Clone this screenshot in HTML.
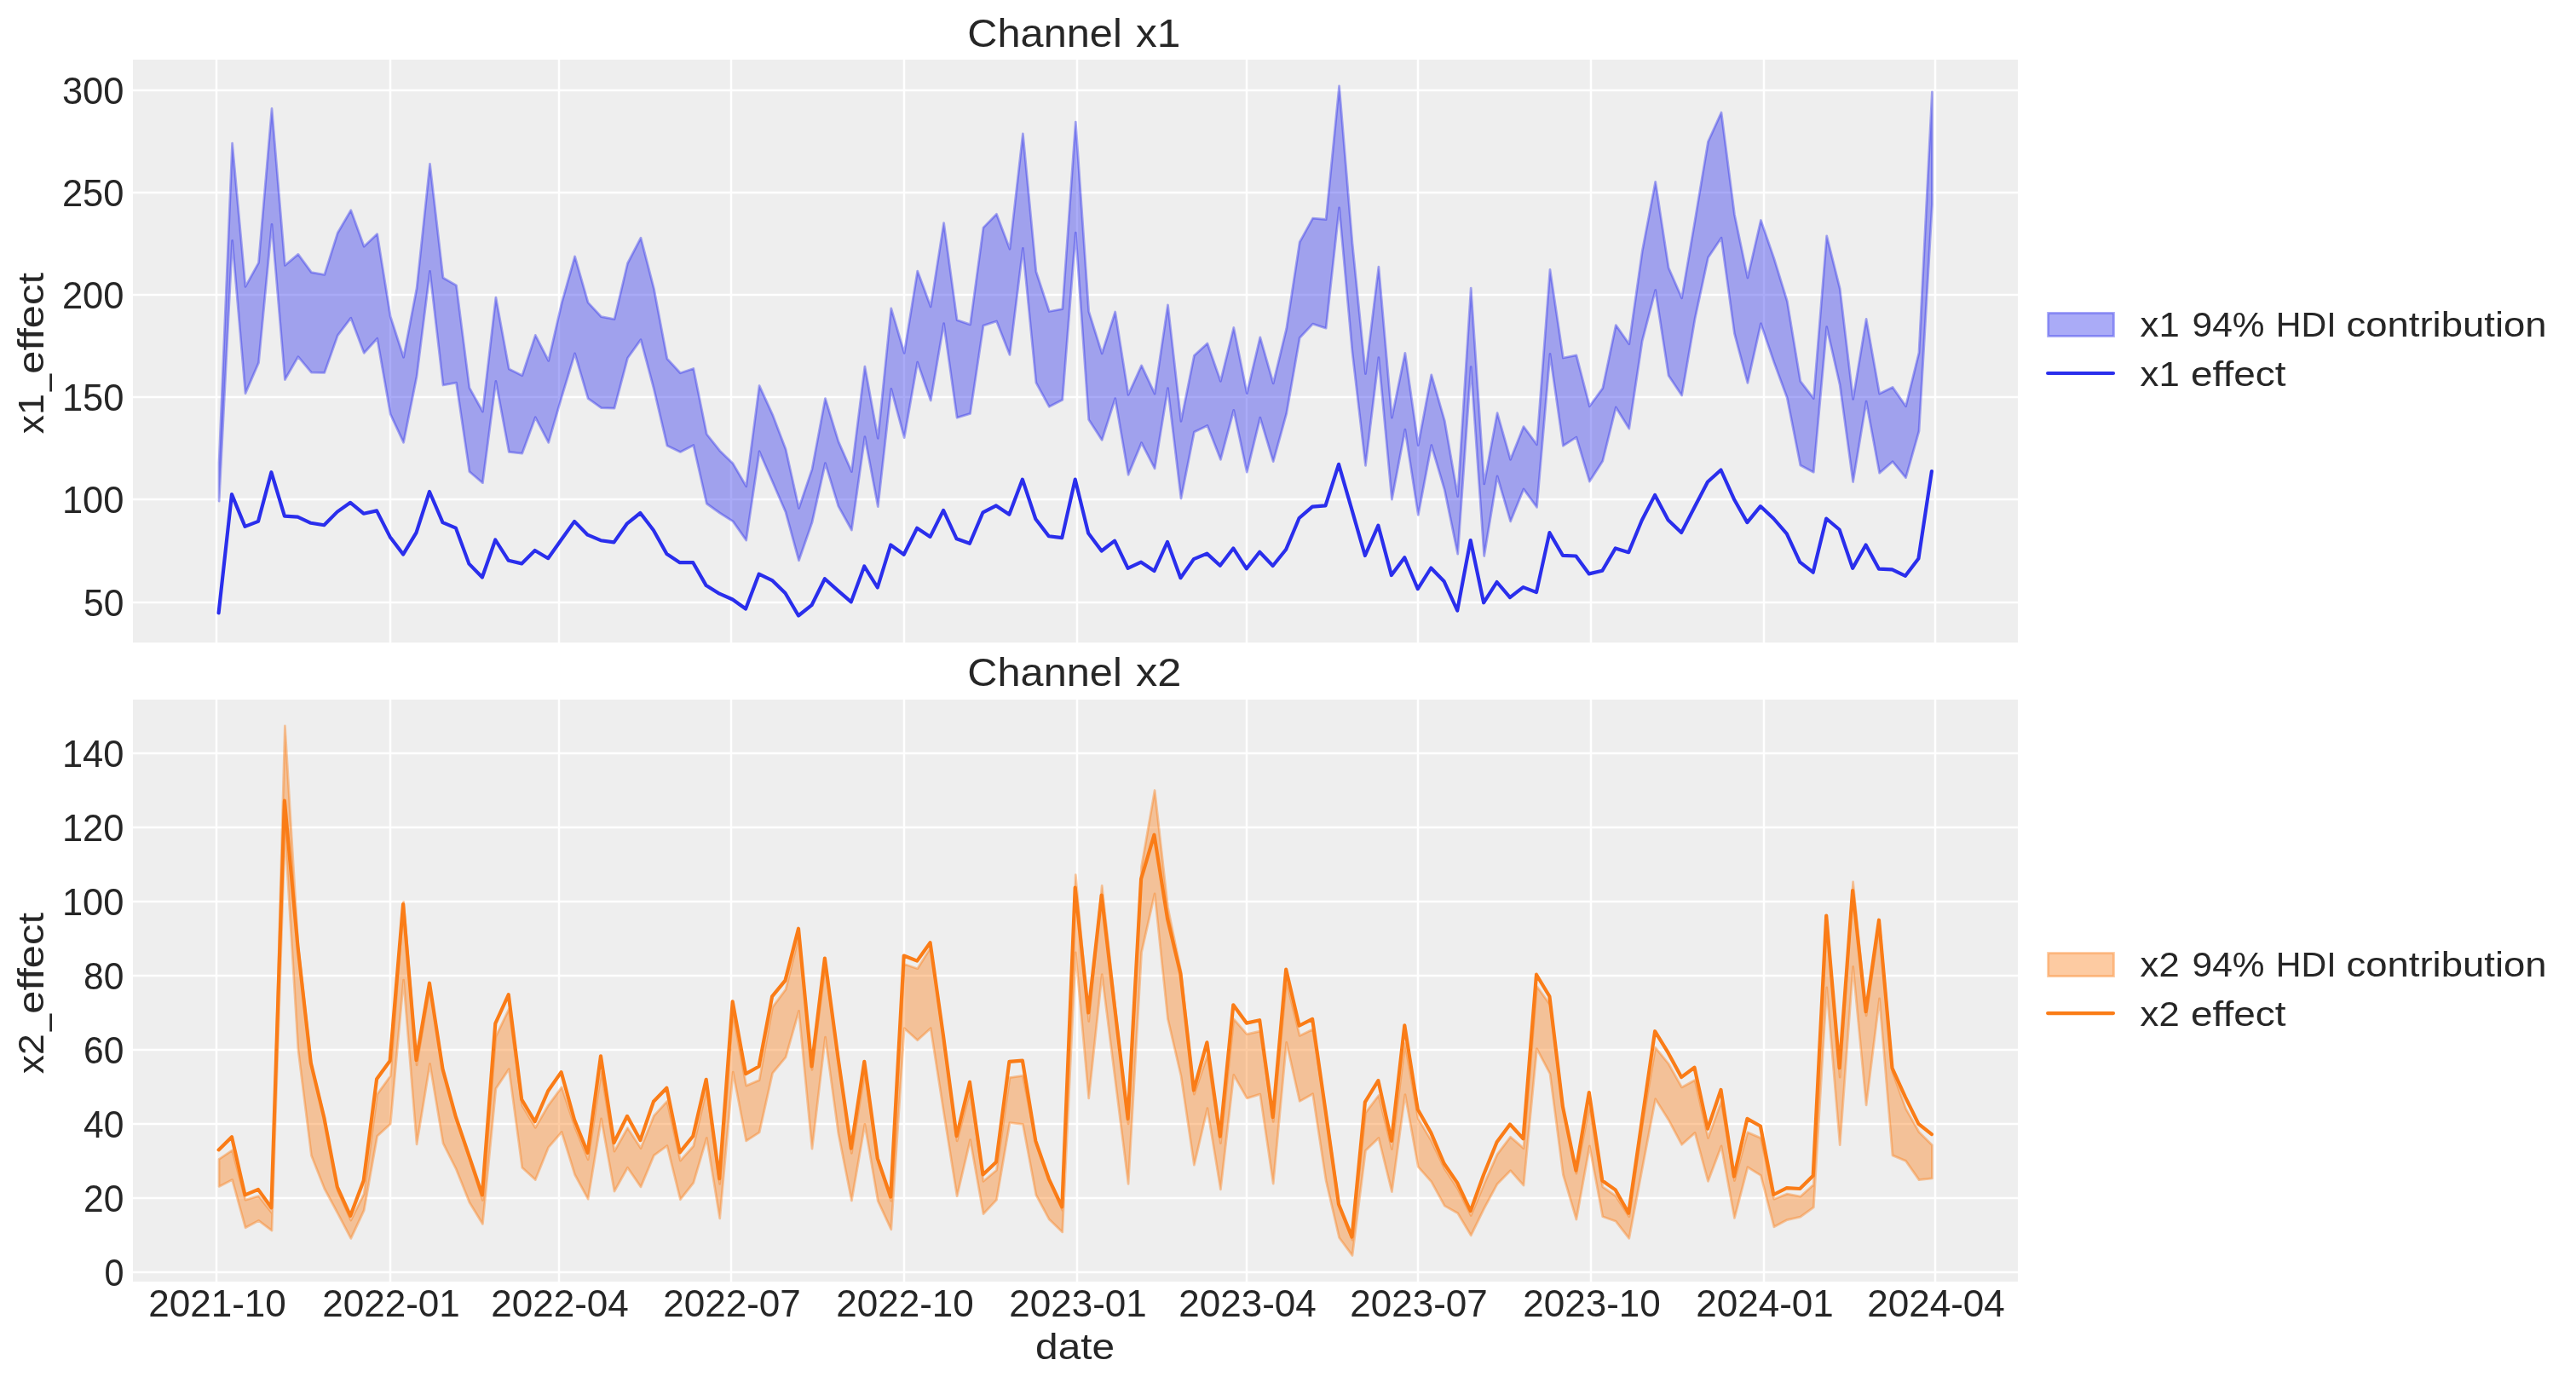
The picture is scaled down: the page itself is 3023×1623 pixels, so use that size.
<!DOCTYPE html>
<html><head><meta charset="utf-8"><title>Channel contributions</title>
<style>html,body{margin:0;padding:0;background:#fff}svg{display:block;will-change:transform}text{font-family:"Liberation Sans",sans-serif;fill:#262626}</style></head><body>
<svg width="3023" height="1623" viewBox="0 0 3023 1623">
<rect x="0" y="0" width="3023" height="1623" fill="#ffffff"/>
<defs>
<clipPath id="c1"><rect x="156.0" y="70.0" width="2212.0" height="684.0"/></clipPath>
<clipPath id="c2"><rect x="156.0" y="821.0" width="2212.0" height="683.0"/></clipPath>
</defs>
<rect x="156.0" y="70.0" width="2212.0" height="684.0" fill="#eeeeee"/>
<g stroke="#ffffff" stroke-width="2.5">
<line x1="254" y1="70.0" x2="254" y2="754.0"/>
<line x1="458" y1="70.0" x2="458" y2="754.0"/>
<line x1="656" y1="70.0" x2="656" y2="754.0"/>
<line x1="858" y1="70.0" x2="858" y2="754.0"/>
<line x1="1061" y1="70.0" x2="1061" y2="754.0"/>
<line x1="1264" y1="70.0" x2="1264" y2="754.0"/>
<line x1="1463" y1="70.0" x2="1463" y2="754.0"/>
<line x1="1664" y1="70.0" x2="1664" y2="754.0"/>
<line x1="1867" y1="70.0" x2="1867" y2="754.0"/>
<line x1="2070" y1="70.0" x2="2070" y2="754.0"/>
<line x1="2271" y1="70.0" x2="2271" y2="754.0"/>
<line x1="156.0" y1="707.00" x2="2368.0" y2="707.00"/>
<line x1="156.0" y1="586.00" x2="2368.0" y2="586.00"/>
<line x1="156.0" y1="466.00" x2="2368.0" y2="466.00"/>
<line x1="156.0" y1="346.00" x2="2368.0" y2="346.00"/>
<line x1="156.0" y1="226.00" x2="2368.0" y2="226.00"/>
<line x1="156.0" y1="106.00" x2="2368.0" y2="106.00"/>
</g>
<path d="M257.1,543.1 L272.6,168.1 L288.0,336.4 L303.5,308.3 L319.0,127.5 L334.4,311.4 L349.9,298.4 L365.4,319.6 L380.8,322.4 L396.3,273.2 L411.8,246.7 L427.2,289.3 L442.7,274.6 L458.2,371.5 L473.6,419.3 L489.1,338.1 L504.5,192.4 L520.0,326.0 L535.5,334.9 L550.9,455.1 L566.4,483.0 L581.9,349.1 L597.3,433.0 L612.8,440.7 L628.3,393.4 L643.7,423.4 L659.2,355.6 L674.6,301.0 L690.1,355.1 L705.6,371.7 L721.0,374.6 L736.5,309.0 L752.0,279.2 L767.4,338.8 L782.9,421.0 L798.4,437.8 L813.8,432.5 L829.3,509.5 L844.7,528.9 L860.2,544.1 L875.7,570.8 L891.1,452.7 L906.6,486.6 L922.1,527.3 L937.5,596.5 L953.0,550.6 L968.5,467.6 L983.9,518.1 L999.4,553.5 L1014.9,430.1 L1030.3,514.3 L1045.8,361.9 L1061.2,414.3 L1076.7,318.1 L1092.2,359.9 L1107.6,261.6 L1123.1,375.6 L1138.6,380.9 L1154.0,267.1 L1169.5,251.3 L1185.0,292.2 L1200.4,157.0 L1215.9,318.8 L1231.3,365.5 L1246.8,362.6 L1262.3,143.1 L1277.7,365.5 L1293.2,414.8 L1308.7,366.0 L1324.1,463.3 L1339.6,428.9 L1355.1,462.1 L1370.5,357.8 L1386.0,494.3 L1401.4,417.2 L1416.9,403.0 L1432.4,447.4 L1447.8,384.5 L1463.3,461.6 L1478.8,395.8 L1494.2,449.9 L1509.7,385.7 L1525.2,284.2 L1540.6,256.1 L1556.1,257.5 L1571.6,101.0 L1587.0,285.4 L1602.5,438.6 L1617.9,313.1 L1633.4,490.2 L1648.9,414.3 L1664.3,522.5 L1679.8,439.8 L1695.3,493.8 L1710.7,582.6 L1726.2,338.1 L1741.7,567.9 L1757.1,484.7 L1772.6,539.3 L1788.0,500.6 L1803.5,521.7 L1819.0,316.4 L1834.4,420.0 L1849.9,416.9 L1865.4,476.8 L1880.8,455.6 L1896.3,381.6 L1911.8,403.7 L1927.2,295.0 L1942.7,213.3 L1958.1,314.3 L1973.6,349.8 L1989.1,258.7 L2004.5,166.2 L2020.0,132.0 L2035.5,252.0 L2050.9,326.0 L2066.4,258.5 L2081.9,303.4 L2097.3,353.5 L2112.8,447.4 L2128.3,467.6 L2143.7,276.8 L2159.2,338.8 L2174.6,468.4 L2190.1,374.4 L2205.6,462.1 L2221.0,454.4 L2236.5,476.8 L2252.0,413.8 L2267.4,107.8 L2267.4,240.2 L2252.0,505.9 L2236.5,560.7 L2221.0,541.7 L2205.6,555.1 L2190.1,471.2 L2174.6,565.5 L2159.2,452.0 L2143.7,383.7 L2128.3,554.2 L2112.8,546.0 L2097.3,466.9 L2081.9,425.3 L2066.4,379.7 L2050.9,449.4 L2035.5,391.7 L2020.0,279.2 L2004.5,302.2 L1989.1,373.9 L1973.6,464.0 L1958.1,440.7 L1942.7,340.5 L1927.2,400.1 L1911.8,503.0 L1896.3,478.0 L1880.8,541.0 L1865.4,565.0 L1849.9,513.1 L1834.4,523.2 L1819.0,415.5 L1803.5,595.3 L1788.0,573.9 L1772.6,611.9 L1757.1,558.8 L1741.7,652.5 L1726.2,430.6 L1710.7,650.1 L1695.3,575.1 L1679.8,522.5 L1664.3,604.4 L1648.9,504.2 L1633.4,586.2 L1617.9,419.6 L1602.5,546.3 L1587.0,413.3 L1571.6,243.8 L1556.1,385.2 L1540.6,380.1 L1525.2,396.5 L1509.7,485.4 L1494.2,541.7 L1478.8,490.2 L1463.3,554.2 L1447.8,481.3 L1432.4,539.3 L1416.9,499.4 L1401.4,507.1 L1386.0,585.0 L1370.5,455.6 L1355.1,549.9 L1339.6,519.6 L1324.1,557.1 L1308.7,467.6 L1293.2,516.4 L1277.7,492.6 L1262.3,273.2 L1246.8,469.3 L1231.3,477.3 L1215.9,449.1 L1200.4,291.4 L1185.0,416.4 L1169.5,377.0 L1154.0,382.1 L1138.6,485.4 L1123.1,490.2 L1107.6,379.7 L1092.2,470.0 L1076.7,425.1 L1061.2,513.6 L1045.8,456.3 L1030.3,594.6 L1014.9,512.6 L999.4,622.0 L983.9,594.1 L968.5,543.6 L953.0,613.1 L937.5,657.8 L922.1,601.3 L906.6,565.5 L891.1,529.7 L875.7,634.0 L860.2,611.9 L844.7,602.0 L829.3,591.0 L813.8,522.5 L798.4,530.4 L782.9,522.9 L767.4,456.6 L752.0,398.6 L736.5,420.3 L721.0,479.2 L705.6,478.7 L690.1,467.6 L674.6,414.8 L659.2,465.7 L643.7,519.3 L628.3,489.8 L612.8,532.1 L597.3,530.4 L581.9,447.4 L566.4,566.7 L550.9,553.5 L535.5,449.1 L520.0,452.0 L504.5,318.4 L489.1,441.4 L473.6,519.3 L458.2,486.2 L442.7,397.2 L427.2,414.3 L411.8,373.2 L396.3,393.6 L380.8,437.4 L365.4,437.1 L349.9,418.6 L334.4,445.5 L319.0,263.3 L303.5,425.8 L288.0,461.6 L272.6,282.5 L257.1,588.1 Z" fill="rgba(42,46,236,0.4)" stroke="rgba(42,46,236,0.4)" stroke-width="2.78" stroke-linejoin="round" clip-path="url(#c1)"/>
<path d="M256.6,719.3 L272.0,580.1 L287.5,617.9 L303.0,611.9 L318.4,554.2 L333.9,605.6 L349.4,606.6 L364.8,613.8 L380.3,616.2 L395.8,600.6 L411.2,589.8 L426.7,602.7 L442.1,599.4 L457.6,629.9 L473.1,650.6 L488.5,625.1 L504.0,577.0 L519.5,613.1 L534.9,619.6 L550.4,661.6 L565.9,677.5 L581.3,633.5 L596.8,657.8 L612.2,661.4 L627.7,646.0 L643.2,655.2 L658.6,633.5 L674.1,611.9 L689.6,627.7 L705.0,634.2 L720.5,636.4 L736.0,614.3 L751.4,602.0 L766.9,622.2 L782.4,650.1 L797.8,660.2 L813.3,660.2 L828.7,687.1 L844.2,696.7 L859.7,703.5 L875.1,714.5 L890.6,673.7 L906.1,681.1 L921.5,696.0 L937.0,722.5 L952.5,710.2 L967.9,679.2 L983.4,693.1 L998.8,706.4 L1014.3,664.5 L1029.8,689.5 L1045.2,639.5 L1060.7,650.8 L1076.2,619.8 L1091.6,629.9 L1107.1,598.9 L1122.6,632.3 L1138.0,637.8 L1153.5,601.3 L1169.0,593.4 L1184.4,603.7 L1199.9,562.6 L1215.3,609.0 L1230.8,629.2 L1246.3,631.1 L1261.7,562.6 L1277.2,625.8 L1292.7,646.5 L1308.1,634.7 L1323.6,666.9 L1339.1,659.7 L1354.5,670.1 L1370.0,635.9 L1385.4,678.2 L1400.9,656.1 L1416.4,649.6 L1431.8,663.8 L1447.3,643.4 L1462.8,667.4 L1478.2,647.7 L1493.7,664.0 L1509.2,644.8 L1524.6,608.0 L1540.1,594.6 L1555.5,593.4 L1571.0,544.8 L1586.5,598.4 L1601.9,652.0 L1617.4,616.7 L1632.9,675.1 L1648.3,654.2 L1663.8,691.2 L1679.3,666.5 L1694.7,682.3 L1710.2,716.5 L1725.7,634.0 L1741.1,707.3 L1756.6,683.0 L1772.0,701.1 L1787.5,689.1 L1803.0,695.1 L1818.4,625.1 L1833.9,651.8 L1849.4,652.5 L1864.8,673.4 L1880.3,669.8 L1895.8,643.4 L1911.2,648.2 L1926.7,610.7 L1942.1,580.9 L1957.6,610.2 L1973.1,625.1 L1988.5,595.3 L2004.0,565.5 L2019.5,551.5 L2034.9,585.7 L2050.4,613.1 L2065.9,594.1 L2081.3,608.5 L2096.8,626.3 L2112.2,659.7 L2127.7,671.7 L2143.2,608.5 L2158.6,621.5 L2174.1,666.9 L2189.6,639.5 L2205.0,667.7 L2220.5,668.4 L2236.0,675.8 L2251.4,655.6 L2266.9,553.0" fill="none" stroke="#2a2eec" stroke-width="4.17" stroke-linejoin="round" stroke-linecap="round" clip-path="url(#c1)"/>
<rect x="156.0" y="821.0" width="2212.0" height="683.0" fill="#eeeeee"/>
<g stroke="#ffffff" stroke-width="2.5">
<line x1="254" y1="821.0" x2="254" y2="1504.0"/>
<line x1="458" y1="821.0" x2="458" y2="1504.0"/>
<line x1="656" y1="821.0" x2="656" y2="1504.0"/>
<line x1="858" y1="821.0" x2="858" y2="1504.0"/>
<line x1="1061" y1="821.0" x2="1061" y2="1504.0"/>
<line x1="1264" y1="821.0" x2="1264" y2="1504.0"/>
<line x1="1463" y1="821.0" x2="1463" y2="1504.0"/>
<line x1="1664" y1="821.0" x2="1664" y2="1504.0"/>
<line x1="1867" y1="821.0" x2="1867" y2="1504.0"/>
<line x1="2070" y1="821.0" x2="2070" y2="1504.0"/>
<line x1="2271" y1="821.0" x2="2271" y2="1504.0"/>
<line x1="156.0" y1="1493.00" x2="2368.0" y2="1493.00"/>
<line x1="156.0" y1="1406.00" x2="2368.0" y2="1406.00"/>
<line x1="156.0" y1="1319.00" x2="2368.0" y2="1319.00"/>
<line x1="156.0" y1="1232.00" x2="2368.0" y2="1232.00"/>
<line x1="156.0" y1="1145.00" x2="2368.0" y2="1145.00"/>
<line x1="156.0" y1="1058.00" x2="2368.0" y2="1058.00"/>
<line x1="156.0" y1="971.00" x2="2368.0" y2="971.00"/>
<line x1="156.0" y1="884.00" x2="2368.0" y2="884.00"/>
</g>
<path d="M257.1,1360.3 L272.6,1349.8 L288.0,1408.1 L303.5,1403.7 L319.0,1423.3 L334.4,851.9 L349.9,1110.2 L365.4,1249.4 L380.8,1312.4 L396.3,1397.2 L411.8,1432.0 L427.2,1401.1 L442.7,1284.1 L458.2,1262.8 L473.6,1058.4 L489.1,1249.8 L504.5,1158.0 L520.0,1255.9 L535.5,1314.2 L550.9,1359.0 L566.4,1408.5 L581.9,1216.3 L597.3,1184.1 L612.8,1297.2 L628.3,1323.3 L643.7,1296.8 L659.2,1275.9 L674.6,1322.4 L690.1,1360.7 L705.6,1258.1 L721.0,1351.1 L736.5,1323.7 L752.0,1347.6 L767.4,1309.4 L782.9,1292.4 L798.4,1362.0 L813.8,1345.0 L829.3,1277.6 L844.7,1389.4 L860.2,1188.9 L875.7,1274.1 L891.1,1267.6 L906.6,1181.9 L922.1,1161.1 L937.5,1098.4 L953.0,1255.4 L968.5,1133.7 L983.9,1242.8 L999.4,1353.3 L1014.9,1258.1 L1030.3,1362.9 L1045.8,1409.4 L1061.2,1131.5 L1076.7,1136.7 L1092.2,1111.9 L1107.6,1221.1 L1123.1,1338.9 L1138.6,1279.4 L1154.0,1386.3 L1169.5,1373.3 L1185.0,1264.6 L1200.4,1262.4 L1215.9,1341.6 L1231.3,1385.5 L1246.8,1420.3 L1262.3,1026.7 L1277.7,1198.5 L1293.2,1039.3 L1308.7,1181.9 L1324.1,1318.9 L1339.6,1017.1 L1355.1,927.5 L1370.5,1065.0 L1386.0,1140.6 L1401.4,1284.1 L1416.9,1238.5 L1432.4,1341.6 L1447.8,1195.9 L1463.3,1213.7 L1478.8,1210.2 L1494.2,1316.3 L1509.7,1151.5 L1525.2,1215.4 L1540.6,1208.0 L1556.1,1305.9 L1571.6,1414.2 L1587.0,1455.1 L1602.5,1305.9 L1617.9,1285.5 L1633.4,1348.5 L1648.9,1224.6 L1664.3,1312.9 L1679.8,1338.9 L1695.3,1371.6 L1710.7,1395.0 L1726.2,1426.4 L1741.7,1389.4 L1757.1,1354.6 L1772.6,1334.2 L1788.0,1347.6 L1803.5,1157.6 L1819.0,1178.9 L1834.4,1300.7 L1849.9,1377.2 L1865.4,1297.2 L1880.8,1392.9 L1896.3,1403.7 L1911.8,1427.7 L1927.2,1321.1 L1942.7,1229.4 L1958.1,1248.5 L1973.6,1275.9 L1989.1,1267.6 L2004.5,1335.5 L2020.0,1292.8 L2035.5,1385.5 L2050.9,1328.9 L2066.4,1335.5 L2081.9,1407.2 L2097.3,1401.1 L2112.8,1404.2 L2128.3,1390.3 L2143.7,1079.7 L2159.2,1264.1 L2174.6,1035.0 L2190.1,1191.9 L2205.6,1084.1 L2221.0,1258.1 L2236.5,1301.1 L2252.0,1328.5 L2267.4,1343.7 L2267.4,1382.9 L2252.0,1384.6 L2236.5,1362.4 L2221.0,1355.9 L2205.6,1171.9 L2190.1,1296.8 L2174.6,1134.5 L2159.2,1343.7 L2143.7,1158.9 L2128.3,1416.8 L2112.8,1428.1 L2097.3,1431.6 L2081.9,1439.8 L2066.4,1379.4 L2050.9,1369.8 L2035.5,1429.4 L2020.0,1345.0 L2004.5,1386.3 L1989.1,1329.4 L1973.6,1343.3 L1958.1,1314.2 L1942.7,1289.8 L1927.2,1371.6 L1911.8,1453.3 L1896.3,1433.3 L1880.8,1427.7 L1865.4,1345.0 L1849.9,1431.1 L1834.4,1378.5 L1819.0,1260.2 L1803.5,1230.7 L1788.0,1391.1 L1772.6,1373.7 L1757.1,1389.4 L1741.7,1418.1 L1726.2,1449.8 L1710.7,1423.8 L1695.3,1415.1 L1679.8,1386.8 L1664.3,1369.4 L1648.9,1284.6 L1633.4,1398.5 L1617.9,1335.5 L1602.5,1350.3 L1587.0,1473.3 L1571.6,1452.5 L1556.1,1385.5 L1540.6,1283.7 L1525.2,1292.4 L1509.7,1223.3 L1494.2,1389.0 L1478.8,1284.1 L1463.3,1288.9 L1447.8,1261.5 L1432.4,1395.9 L1416.9,1300.7 L1401.4,1367.2 L1386.0,1262.8 L1370.5,1195.9 L1355.1,1048.9 L1339.6,1117.6 L1324.1,1389.4 L1308.7,1266.8 L1293.2,1143.7 L1277.7,1288.9 L1262.3,1118.0 L1246.8,1445.9 L1231.3,1431.1 L1215.9,1402.4 L1200.4,1319.4 L1185.0,1317.6 L1169.5,1408.1 L1154.0,1424.6 L1138.6,1337.6 L1123.1,1403.7 L1107.6,1305.9 L1092.2,1206.7 L1076.7,1220.7 L1061.2,1206.7 L1045.8,1442.9 L1030.3,1409.4 L1014.9,1319.4 L999.4,1409.0 L983.9,1330.2 L968.5,1217.2 L953.0,1348.1 L937.5,1186.3 L922.1,1240.7 L906.6,1259.4 L891.1,1328.9 L875.7,1338.9 L860.2,1258.1 L844.7,1429.8 L829.3,1335.5 L813.8,1388.1 L798.4,1407.7 L782.9,1344.6 L767.4,1355.9 L752.0,1392.9 L736.5,1370.3 L721.0,1398.1 L705.6,1312.9 L690.1,1407.2 L674.6,1378.5 L659.2,1328.5 L643.7,1346.3 L628.3,1384.6 L612.8,1370.3 L597.3,1254.6 L581.9,1277.6 L566.4,1436.4 L550.9,1411.1 L535.5,1372.4 L520.0,1341.6 L504.5,1248.5 L489.1,1342.9 L473.6,1150.2 L458.2,1318.9 L442.7,1333.3 L427.2,1420.3 L411.8,1453.3 L396.3,1423.8 L380.8,1395.0 L365.4,1355.9 L349.9,1231.5 L334.4,975.4 L319.0,1444.2 L303.5,1432.4 L288.0,1440.7 L272.6,1384.6 L257.1,1392.4 Z" fill="rgba(250,124,23,0.4)" stroke="rgba(250,124,23,0.4)" stroke-width="2.78" stroke-linejoin="round" clip-path="url(#c2)"/>
<path d="M256.6,1349.4 L272.0,1334.2 L287.5,1402.4 L303.0,1395.9 L318.4,1417.2 L333.9,939.7 L349.4,1110.2 L364.8,1247.2 L380.3,1311.5 L395.8,1392.9 L411.2,1426.8 L426.7,1385.5 L442.1,1266.3 L457.6,1245.0 L473.1,1061.0 L488.5,1244.1 L504.0,1153.7 L519.5,1254.6 L534.9,1310.7 L550.4,1356.3 L565.9,1402.4 L581.3,1201.1 L596.8,1167.2 L612.2,1290.2 L627.7,1316.3 L643.2,1280.2 L658.6,1258.1 L674.1,1314.2 L689.6,1352.9 L705.0,1239.4 L720.5,1341.1 L736.0,1309.8 L751.4,1338.1 L766.9,1292.8 L782.4,1276.8 L797.8,1352.4 L813.3,1333.3 L828.7,1266.8 L844.2,1383.3 L859.7,1175.4 L875.1,1260.2 L890.6,1251.5 L906.1,1169.3 L921.5,1150.6 L937.0,1089.7 L952.5,1251.5 L967.9,1124.5 L983.4,1240.7 L998.8,1347.6 L1014.3,1245.9 L1029.8,1359.4 L1045.2,1404.6 L1060.7,1121.5 L1076.2,1127.6 L1091.6,1106.3 L1107.1,1216.3 L1122.6,1333.3 L1138.0,1269.8 L1153.5,1378.5 L1169.0,1363.7 L1184.4,1245.9 L1199.9,1244.6 L1215.3,1338.9 L1230.8,1383.3 L1246.3,1416.4 L1261.7,1041.5 L1277.2,1188.5 L1292.7,1050.6 L1308.1,1181.9 L1323.6,1312.9 L1339.1,1031.5 L1354.5,979.7 L1370.0,1078.0 L1385.4,1142.8 L1400.9,1279.4 L1416.4,1223.3 L1431.8,1333.7 L1447.3,1179.3 L1462.8,1200.6 L1478.2,1197.2 L1493.7,1311.1 L1509.2,1137.6 L1524.6,1203.7 L1540.1,1195.9 L1555.5,1303.3 L1571.0,1413.3 L1586.5,1451.6 L1601.9,1293.3 L1617.4,1268.1 L1632.9,1338.9 L1648.3,1203.3 L1663.8,1302.0 L1679.3,1329.4 L1694.7,1365.5 L1710.2,1388.1 L1725.7,1421.1 L1741.1,1378.5 L1756.6,1340.3 L1772.0,1319.4 L1787.5,1336.3 L1803.0,1143.7 L1818.4,1169.3 L1833.9,1298.5 L1849.4,1373.7 L1864.8,1282.0 L1880.3,1385.5 L1895.8,1396.4 L1911.2,1423.8 L1926.7,1316.3 L1942.1,1210.2 L1957.6,1235.4 L1973.1,1264.1 L1988.5,1252.8 L2004.0,1324.6 L2019.5,1278.9 L2034.9,1380.7 L2050.4,1312.9 L2065.9,1321.5 L2081.3,1402.0 L2096.8,1394.2 L2112.2,1395.0 L2127.7,1379.8 L2143.2,1074.5 L2158.6,1253.3 L2174.1,1045.0 L2189.6,1187.2 L2205.0,1079.7 L2220.5,1253.3 L2236.0,1287.6 L2251.4,1318.9 L2266.9,1331.1" fill="none" stroke="#fa7c17" stroke-width="4.17" stroke-linejoin="round" stroke-linecap="round" clip-path="url(#c2)"/>
<text x="145.4" y="723" font-size="43.6" text-anchor="end" textLength="47.3" lengthAdjust="spacingAndGlyphs">50</text>
<text x="145.4" y="602" font-size="43.6" text-anchor="end" textLength="72.5" lengthAdjust="spacingAndGlyphs">100</text>
<text x="145.4" y="482" font-size="43.6" text-anchor="end" textLength="72.5" lengthAdjust="spacingAndGlyphs">150</text>
<text x="145.4" y="362" font-size="43.6" text-anchor="end" textLength="72.5" lengthAdjust="spacingAndGlyphs">200</text>
<text x="145.4" y="242" font-size="43.6" text-anchor="end" textLength="72.5" lengthAdjust="spacingAndGlyphs">250</text>
<text x="145.4" y="122" font-size="43.6" text-anchor="end" textLength="72.5" lengthAdjust="spacingAndGlyphs">300</text>
<text x="145.4" y="1509" font-size="43.6" text-anchor="end" textLength="23.0" lengthAdjust="spacingAndGlyphs">0</text>
<text x="145.4" y="1422" font-size="43.6" text-anchor="end" textLength="47.3" lengthAdjust="spacingAndGlyphs">20</text>
<text x="145.4" y="1335" font-size="43.6" text-anchor="end" textLength="47.3" lengthAdjust="spacingAndGlyphs">40</text>
<text x="145.4" y="1248" font-size="43.6" text-anchor="end" textLength="47.3" lengthAdjust="spacingAndGlyphs">60</text>
<text x="145.4" y="1161" font-size="43.6" text-anchor="end" textLength="47.3" lengthAdjust="spacingAndGlyphs">80</text>
<text x="145.4" y="1074" font-size="43.6" text-anchor="end" textLength="72.5" lengthAdjust="spacingAndGlyphs">100</text>
<text x="145.4" y="987" font-size="43.6" text-anchor="end" textLength="72.5" lengthAdjust="spacingAndGlyphs">120</text>
<text x="145.4" y="900" font-size="43.6" text-anchor="end" textLength="72.5" lengthAdjust="spacingAndGlyphs">140</text>
<text x="255.0" y="1545" font-size="43.6" text-anchor="middle" textLength="161.5" lengthAdjust="spacingAndGlyphs">2021-10</text>
<text x="459.0" y="1545" font-size="43.6" text-anchor="middle" textLength="161.5" lengthAdjust="spacingAndGlyphs">2022-01</text>
<text x="657.0" y="1545" font-size="43.6" text-anchor="middle" textLength="161.5" lengthAdjust="spacingAndGlyphs">2022-04</text>
<text x="859.0" y="1545" font-size="43.6" text-anchor="middle" textLength="161.5" lengthAdjust="spacingAndGlyphs">2022-07</text>
<text x="1062.0" y="1545" font-size="43.6" text-anchor="middle" textLength="161.5" lengthAdjust="spacingAndGlyphs">2022-10</text>
<text x="1265.0" y="1545" font-size="43.6" text-anchor="middle" textLength="161.5" lengthAdjust="spacingAndGlyphs">2023-01</text>
<text x="1464.0" y="1545" font-size="43.6" text-anchor="middle" textLength="161.5" lengthAdjust="spacingAndGlyphs">2023-04</text>
<text x="1665.0" y="1545" font-size="43.6" text-anchor="middle" textLength="161.5" lengthAdjust="spacingAndGlyphs">2023-07</text>
<text x="1868.0" y="1545" font-size="43.6" text-anchor="middle" textLength="161.5" lengthAdjust="spacingAndGlyphs">2023-10</text>
<text x="2071.0" y="1545" font-size="43.6" text-anchor="middle" textLength="161.5" lengthAdjust="spacingAndGlyphs">2024-01</text>
<text x="2272.0" y="1545" font-size="43.6" text-anchor="middle" textLength="161.5" lengthAdjust="spacingAndGlyphs">2024-04</text>
<text x="1135.33" y="55.0" font-size="46.5" text-anchor="start" textLength="181.42" lengthAdjust="spacingAndGlyphs">Channel</text>
<text x="1332.97" y="55.0" font-size="46.5" text-anchor="start" textLength="52.39" lengthAdjust="spacingAndGlyphs">x1</text>
<text x="1135.33" y="805.0" font-size="46.5" text-anchor="start" textLength="181.42" lengthAdjust="spacingAndGlyphs">Channel</text>
<text x="1332.97" y="805.0" font-size="46.5" text-anchor="start" textLength="53.39" lengthAdjust="spacingAndGlyphs">x2</text>
<text x="1261.6" y="1595" font-size="43.3" text-anchor="middle" textLength="93" lengthAdjust="spacingAndGlyphs">date</text>
<g transform="translate(51.0,508.3) rotate(-90)">
<text x="-1.00" y="0" font-size="42.7" textLength="47.14" lengthAdjust="spacingAndGlyphs">x1</text>
<text x="49.20" y="1.5" font-size="42.7" textLength="20.14" lengthAdjust="spacingAndGlyphs">_</text>
<text x="69.60" y="0" font-size="42.7" textLength="118.78" lengthAdjust="spacingAndGlyphs">effect</text>
</g>
<g transform="translate(51.0,1259.3) rotate(-90)">
<text x="-1.00" y="0" font-size="42.7" textLength="47.12" lengthAdjust="spacingAndGlyphs">x2</text>
<text x="49.20" y="1.5" font-size="42.7" textLength="20.14" lengthAdjust="spacingAndGlyphs">_</text>
<text x="69.60" y="0" font-size="42.7" textLength="118.78" lengthAdjust="spacingAndGlyphs">effect</text>
</g>
 <rect x="2403.6" y="367.4" width="76.9" height="27.1" fill="rgba(42,46,236,0.4)" stroke="rgba(42,46,236,0.4)" stroke-width="2.78"/>
 <line x1="2403.1" y1="438.0" x2="2480.0" y2="438.0" stroke="#2a2eec" stroke-width="4.17" stroke-linecap="round"/>
<text x="2511.60" y="395.0" font-size="41.2" text-anchor="start" textLength="46.19" lengthAdjust="spacingAndGlyphs">x1</text>
<text x="2572.60" y="395.0" font-size="41.2" text-anchor="start" textLength="84.96" lengthAdjust="spacingAndGlyphs">94%</text>
<text x="2670.80" y="395.0" font-size="41.2" text-anchor="start" textLength="70.88" lengthAdjust="spacingAndGlyphs">HDI</text>
<text x="2753.40" y="395.0" font-size="41.2" text-anchor="start" textLength="235.20" lengthAdjust="spacingAndGlyphs">contribution</text>
<text x="2511.60" y="452.8" font-size="41.2" text-anchor="start" textLength="46.19" lengthAdjust="spacingAndGlyphs">x1</text>
<text x="2571.00" y="452.8" font-size="41.2" text-anchor="start" textLength="111.57" lengthAdjust="spacingAndGlyphs">effect</text>
 <rect x="2403.6" y="1118.5" width="76.9" height="27.1" fill="rgba(250,124,23,0.4)" stroke="rgba(250,124,23,0.4)" stroke-width="2.78"/>
 <line x1="2403.1" y1="1189.1" x2="2480.0" y2="1189.1" stroke="#fa7c17" stroke-width="4.17" stroke-linecap="round"/>
<text x="2511.60" y="1146.1" font-size="41.2" text-anchor="start" textLength="46.12" lengthAdjust="spacingAndGlyphs">x2</text>
<text x="2572.60" y="1146.1" font-size="41.2" text-anchor="start" textLength="84.96" lengthAdjust="spacingAndGlyphs">94%</text>
<text x="2670.80" y="1146.1" font-size="41.2" text-anchor="start" textLength="70.88" lengthAdjust="spacingAndGlyphs">HDI</text>
<text x="2753.40" y="1146.1" font-size="41.2" text-anchor="start" textLength="235.20" lengthAdjust="spacingAndGlyphs">contribution</text>
<text x="2511.60" y="1203.9" font-size="41.2" text-anchor="start" textLength="46.12" lengthAdjust="spacingAndGlyphs">x2</text>
<text x="2571.00" y="1203.9" font-size="41.2" text-anchor="start" textLength="111.57" lengthAdjust="spacingAndGlyphs">effect</text>
</svg></body></html>
